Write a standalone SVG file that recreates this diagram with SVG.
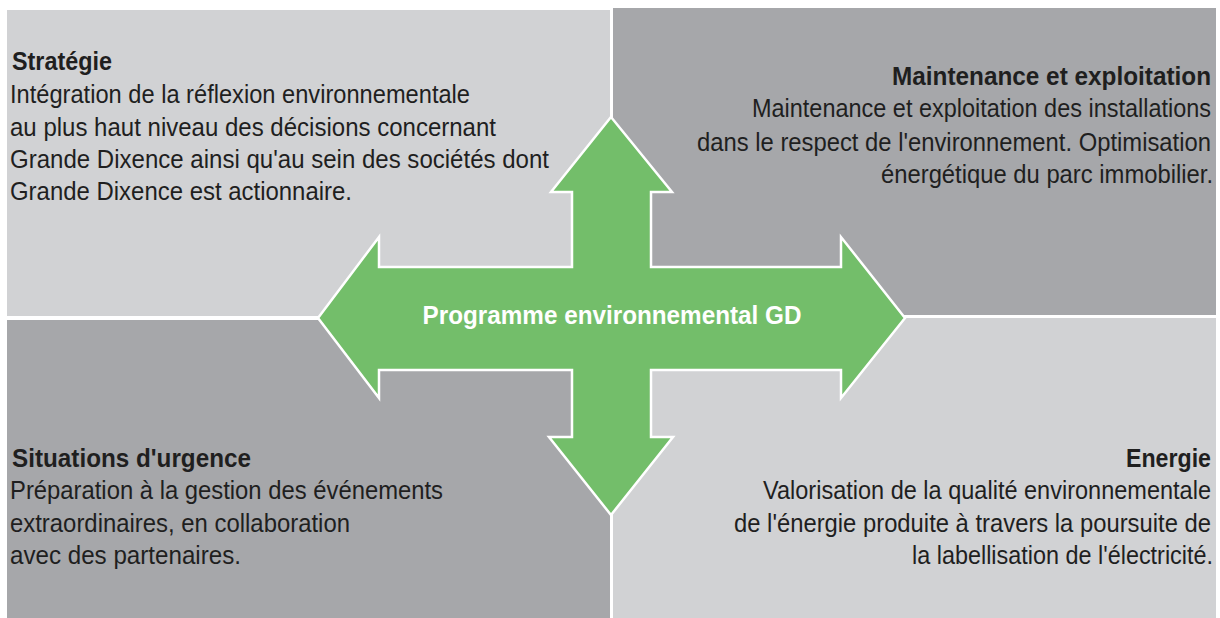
<svg xmlns="http://www.w3.org/2000/svg" width="1220" height="618" viewBox="0 0 1220 618">
<style>
.light{fill:#d1d2d4}
.dark{fill:#a6a7aa}
.t{font-family:"Liberation Sans",Arial,sans-serif;font-size:25.5px;fill:#1f1f1f}
.b{font-weight:bold}
.r{text-anchor:end}
.c{font-family:"Liberation Sans",Arial,sans-serif;font-size:26px;font-weight:bold;fill:#ffffff;text-anchor:middle}
</style>
<rect x="0" y="0" width="1220" height="618" fill="#ffffff"/>
<g id="strategie">
<rect class="light" x="7" y="10" width="603" height="306"/>
<text class="t b" x="12" y="70" textLength="100" lengthAdjust="spacingAndGlyphs">Stratégie</text>
<text class="t" x="10" y="103" textLength="460" lengthAdjust="spacingAndGlyphs">Intégration de la réflexion environnementale</text>
<text class="t" x="10" y="136" textLength="486" lengthAdjust="spacingAndGlyphs">au plus haut niveau des décisions concernant</text>
<text class="t" x="10" y="168" textLength="539" lengthAdjust="spacingAndGlyphs">Grande Dixence ainsi qu'au sein des sociétés dont</text>
<text class="t" x="10" y="200" textLength="342" lengthAdjust="spacingAndGlyphs">Grande Dixence est actionnaire.</text>
</g>
<g id="maintenance">
<rect class="dark" x="613" y="8" width="603" height="307"/>
<text class="t b r" x="1211" y="85" textLength="319" lengthAdjust="spacingAndGlyphs">Maintenance et exploitation</text>
<text class="t r" x="1211" y="117" textLength="459" lengthAdjust="spacingAndGlyphs">Maintenance et exploitation des installations</text>
<text class="t r" x="1211" y="151" textLength="514" lengthAdjust="spacingAndGlyphs">dans le respect de l'environnement. Optimisation</text>
<text class="t r" x="1213" y="183" textLength="332" lengthAdjust="spacingAndGlyphs">énergétique du parc immobilier.</text>
</g>
<g id="urgence">
<rect class="dark" x="7" y="320" width="603" height="298"/>
<text class="t b" x="12" y="467" textLength="239" lengthAdjust="spacingAndGlyphs">Situations d'urgence</text>
<text class="t" x="10" y="499" textLength="433" lengthAdjust="spacingAndGlyphs">Préparation à la gestion des événements</text>
<text class="t" x="10" y="532" textLength="340" lengthAdjust="spacingAndGlyphs">extraordinaires, en collaboration</text>
<text class="t" x="10" y="564" textLength="231" lengthAdjust="spacingAndGlyphs">avec des partenaires.</text>
</g>
<g id="energie">
<rect class="light" x="613" y="318" width="603" height="300"/>
<text class="t b r" x="1211" y="467" textLength="85" lengthAdjust="spacingAndGlyphs">Energie</text>
<text class="t r" x="1211" y="499" textLength="448" lengthAdjust="spacingAndGlyphs">Valorisation de la qualité environnementale</text>
<text class="t r" x="1211" y="532" textLength="477" lengthAdjust="spacingAndGlyphs">de l'énergie produite à travers la poursuite de</text>
<text class="t r" x="1213" y="564" textLength="301" lengthAdjust="spacingAndGlyphs">la labellisation de l'électricité.</text>
</g>
<g id="programme">
<polygon fill="#73be6a" stroke="#ffffff" stroke-width="2.5" stroke-linejoin="miter" points="611,117 672,192 651,192 651,267 841,267 841,237 905,318 841,398 841,370 651,370 651,437 673,437 611,515 549,437 572,437 572,370 379,370 379,398 318,318 379,237 379,267 572,267 572,192 551,192"/>
<text class="c" x="612" y="324" textLength="379" lengthAdjust="spacingAndGlyphs">Programme environnemental GD</text>
</g>
</svg>
